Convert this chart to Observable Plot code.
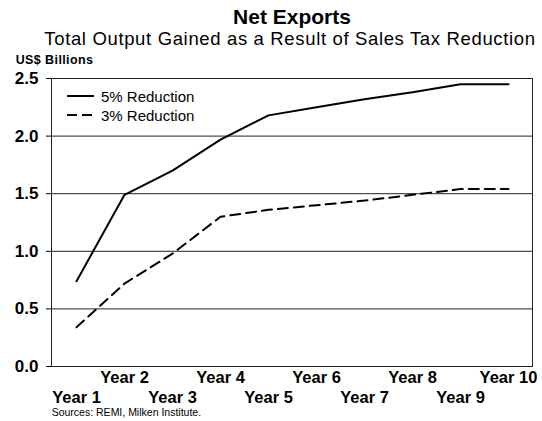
<!DOCTYPE html>
<html><head><meta charset="utf-8">
<script src="https://cdn.jsdelivr.net/npm/d3@7"></script>
<script src="https://cdn.jsdelivr.net/npm/@observablehq/plot@0.6"></script>
<style>
body{margin:0;background:#fff;}
#wrap{position:relative;width:542px;height:421px;font-family:"Liberation Sans",Arial,sans-serif;color:#000;overflow:hidden;}
.t{position:absolute;white-space:nowrap;line-height:1;}
#chart{position:absolute;left:0;top:0;}
</style></head><body>
<div id="wrap">
<div id="chart"></div>
<div class="t" style="left:292px;top:6.2px;transform:translateX(-50%);font-size:21px;font-weight:bold;">Net Exports</div>
<div class="t" style="left:44.3px;top:30px;font-size:18.5px;letter-spacing:0.65px;">Total Output Gained as a Result of Sales Tax Reduction</div>
<div class="t" style="left:15.7px;top:53.7px;font-size:12.5px;font-weight:bold;letter-spacing:0.4px;">US$ Billions</div>
<div class="t" style="left:51.7px;top:407.1px;font-size:10.5px;">Sources: REMI, Milken Institute.</div>
</div>
<script>
const years = ["Year 1","Year 2","Year 3","Year 4","Year 5","Year 6","Year 7","Year 8","Year 9","Year 10"];
const reduction5 = [0.74, 1.49, 1.70, 1.97, 2.18, 2.25, 2.32, 2.38, 2.45, 2.45];
const reduction3 = [0.34, 0.72, 0.98, 1.30, 1.36, 1.40, 1.44, 1.49, 1.54, 1.54];
const seriesNames = ["5% Reduction", "3% Reduction"];
const yTicks = [0, 0.5, 1.0, 1.5, 2.0, 2.5];
const gridValues = [0.5, 1.0, 1.5, 2.0];

const dash = "10,6";

function legendMark(index, scales, values, dims) {
  const g = d3.create("svg:g");
  const items = [
    {name: seriesNames[0], dash: null, y: 96},
    {name: seriesNames[1], dash: dash, y: 115}
  ];
  for (const it of items) {
    const l = g.append("line")
      .attr("x1", 67).attr("x2", 94)
      .attr("y1", it.y).attr("y2", it.y)
      .attr("stroke", "#000").attr("stroke-width", 2);
    if (it.dash) l.attr("stroke-dasharray", "10,5");
    g.append("text")
      .attr("x", 101).attr("y", it.y + 6.2)
      .attr("font-size", 15)
      .attr("text-anchor", "start")
      .attr("fill", "#000")
      .text(it.name);
  }
  return g.node();
}

const chart = Plot.plot({
  width: 542,
  height: 421,
  marginTop: 78,
  marginBottom: 55,
  marginLeft: 51,
  marginRight: 10,
  style: {fontFamily: "'Liberation Sans', Arial, sans-serif", color: "#000", background: "transparent"},
  x: {type: "point", domain: years, padding: 0.5},
  y: {domain: [0, 2.5]},
  marks: [
    Plot.ruleY(gridValues, {stroke: "#222", strokeWidth: 1}),
    Plot.frame({stroke: "#222", strokeWidth: 1}),
    Plot.axisY({ticks: yTicks, tickFormat: d3.format(".1f"), tickSize: 5, tickPadding: 8, fontSize: 17, fontWeight: "bold", label: null, stroke: "#000"}),
    Plot.axisX({ticks: years.filter((d, i) => i % 2 === 1), tickSize: 0, tickPadding: 5, fontSize: 16.5, fontWeight: "bold", label: null}),
    Plot.axisX({ticks: years.filter((d, i) => i % 2 === 0), tickSize: 0, tickPadding: 25, fontSize: 16.5, fontWeight: "bold", label: null}),
    Plot.line(reduction5, {x: (d, i) => years[i], y: d => d, stroke: "#000", strokeWidth: 2}),
    Plot.line(reduction3, {x: (d, i) => years[i], y: d => d, stroke: "#000", strokeWidth: 2, strokeDasharray: dash}),
    legendMark
  ]
});
document.getElementById("chart").appendChild(chart);
</script>
</body></html>
